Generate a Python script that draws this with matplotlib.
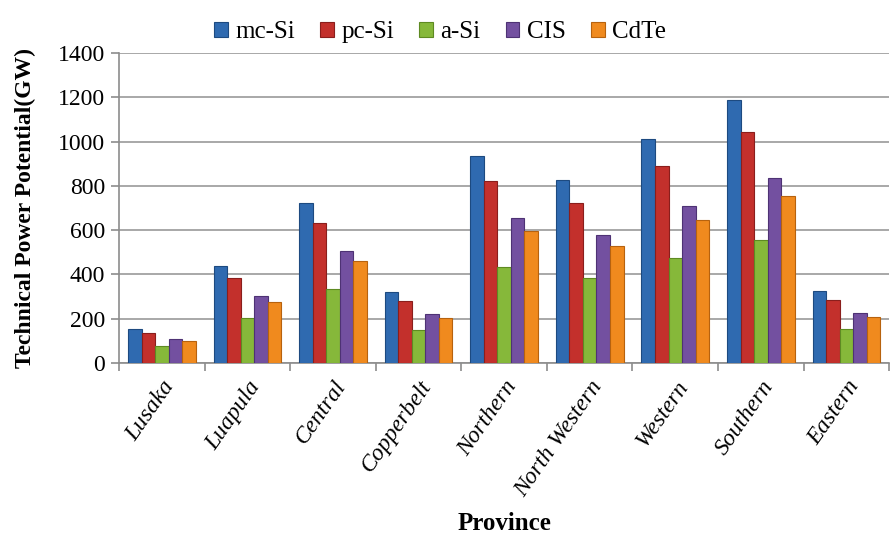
import numpy as np
import matplotlib.pyplot as plt

provinces = ['Lusaka', 'Luapula', 'Central', 'Copperbelt', 'Northern',
             'North Western', 'Western', 'Southern', 'Eastern']
series = ['mc-Si', 'pc-Si', 'a-Si', 'CIS', 'CdTe']
mc_si = [155, 438, 722, 320, 933, 825, 1011, 1189, 324]
pc_si = [137, 385, 631, 280, 820, 721, 888, 1042, 285]
a_si = [75, 205, 336, 149, 433, 384, 474, 554, 154]
cis = [110, 302, 504, 223, 653, 578, 709, 837, 228]
cdte = [98, 274, 459, 205, 596, 527, 647, 756, 210]
values = [mc_si, pc_si, a_si, cis, cdte]
colors = ['#2F6AB0', '#C3302C', '#86B83A', '#7350A0', '#F08A1E']
edges = ['#1D4A80', '#8A1E1C', '#5E8A22', '#4E3274', '#B7620E']

plt.rcParams['font.family'] = ['Liberation Serif', 'DejaVu Serif']

fig = plt.figure(figsize=(8.91, 5.39), dpi=100)
ax = fig.add_axes([0.1336, 0.3265, 0.8644, 0.5752])

x = np.arange(len(provinces))
w = 0.158
for i, (name, vals) in enumerate(zip(series, values)):
    ax.bar(x + (i - 2) * w, vals, width=w, color=colors[i], edgecolor=edges[i],
           linewidth=0.8, label=name, zorder=3)

ax.set_xlim(-0.5, len(provinces) - 0.5)
ax.set_ylim(0, 1400)
ax.set_yticks(range(0, 1401, 200))
ax.yaxis.grid(True, color='#9a9a9a', linewidth=1.2, zorder=0)
ax.set_axisbelow(True)
for s in ['top', 'right']:
    ax.spines[s].set_visible(False)
ax.spines['left'].set_color('#8c8c8c')
ax.spines['bottom'].set_color('#8c8c8c')
ax.spines['left'].set_linewidth(1.2)
ax.spines['bottom'].set_linewidth(1.2)

ax.set_xticks(np.arange(-0.5, len(provinces), 1.0), minor=False)
ax.set_xticklabels([])
ax.set_xticks(x, minor=True)
ax.set_xticklabels(provinces, minor=True, rotation=55, ha='right',
                   rotation_mode='anchor', fontsize=17, style='italic')
ax.tick_params(axis='x', which='major', length=6, color='#8c8c8c', width=1.2)
ax.tick_params(axis='x', which='minor', length=0, pad=10)
ax.tick_params(axis='y', length=6, color='#8c8c8c', width=1.2, labelsize=17, pad=4)

ax.set_ylabel('Technical Power Potential(GW)', fontsize=17, fontweight='bold',
              labelpad=16)
ax.set_xlabel('Province', fontsize=18, fontweight='bold', labelpad=8)

ax.legend(loc='upper center', bbox_to_anchor=(0.417, 1.175), ncol=5, frameon=False,
          fontsize=18, handlelength=0.55, handleheight=0.55, handletextpad=0.3,
          columnspacing=1.0)

fig.savefig('out.png', dpi=100)
